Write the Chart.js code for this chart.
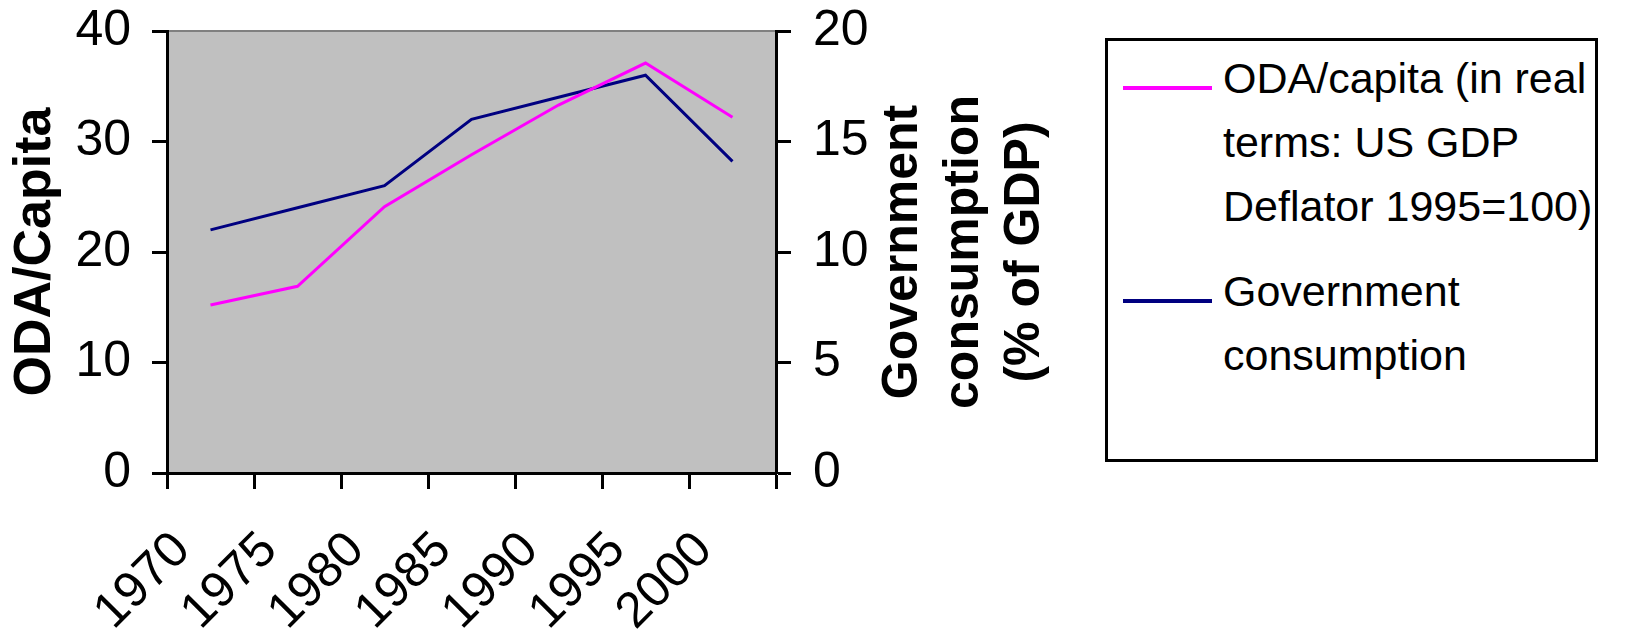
<!DOCTYPE html>
<html>
<head>
<meta charset="utf-8">
<title>ODA per capita and government consumption</title>
<script src="https://cdn.jsdelivr.net/npm/chart.js@4.4.0/dist/chart.umd.min.js"></script>
<style>
  html, body { margin: 0; padding: 0; background: #fff; }
  #wrap { position: relative; width: 1629px; height: 630px; }
  #legend {
    position: absolute; left: 1105px; top: 38px; width: 493px; height: 424px;
    box-sizing: border-box; border: 3px solid #000; background: #fff;
    font-family: 'Liberation Sans', Arial, sans-serif; font-size: 43px; line-height: 64px; color: #000;
  }
  .lg-item { position: absolute; left: 0; }
  .lg-swatch { position: absolute; left: 15px; top: 40px; width: 89px; height: 4px; }
  .lg-text { position: absolute; left: 115px; top: 0; white-space: nowrap; }
</style>
</head>
<body>
<div id="wrap">
  <canvas id="chart" width="1629" height="630"></canvas>
  <div id="legend"></div>
</div>
<script>
// DATA
const periods = ['1970', '1975', '1980', '1985', '1990', '1995', '2000'];
const odaPerCapita = [15.2, 16.9, 24.1, 28.8, 33.3, 37.1, 32.2];
const govConsumption = [11.0, 12.0, 13.0, 16.0, 17.0, 18.0, 14.1];

const odaTicks = [0, 10, 20, 30, 40];
const govTicks = [0, 5, 10, 15, 20];

const odaLegend = ['ODA/capita (in real', 'terms: US GDP', 'Deflator 1995=100)'];
const govLegend = ['Government', 'consumption'];
const govTitle = ['Government', 'consumption', '(% of GDP)'];

const ODA_COLOR = '#ff00ff';
const GOV_COLOR = '#000080';
const FONT = "'Liberation Sans', Arial, sans-serif";

Chart.defaults.font.family = FONT;
Chart.defaults.color = '#000';

// PLUGINS
const plotBackground = {
  id: 'plotBackground',
  beforeDraw(chart) {
    const { ctx, chartArea: a } = chart;
    ctx.save();
    ctx.fillStyle = '#c0c0c0';
    ctx.fillRect(a.left, a.top, a.right - a.left, a.bottom - a.top);
    ctx.strokeStyle = '#808080';
    ctx.lineWidth = 2;
    ctx.strokeRect(a.left, a.top, a.right - a.left, a.bottom - a.top);
    ctx.restore();
  }
};

// right axis title reads bottom-to-top, Chart.js would draw it top-to-bottom
const rightTitle = {
  id: 'rightTitle',
  afterDraw(chart) {
    const { ctx, chartArea: a } = chart;
    const cy = (a.top + a.bottom) / 2;
    ctx.save();
    ctx.font = 'bold 50px ' + FONT;
    ctx.fillStyle = '#000';
    ctx.textAlign = 'center';
    ctx.textBaseline = 'middle';
    govTitle.forEach((line, i) => {
      ctx.save();
      ctx.translate(a.right + 127 + i * 61, cy);
      ctx.rotate(-Math.PI / 2);
      ctx.fillText(line, 0, 0);
      ctx.restore();
    });
    ctx.restore();
  }
};

// CHART
const axisGrid = { drawOnChartArea: false, color: '#000', tickColor: '#000', tickLength: 15, tickWidth: 3 };
const axisBorder = { display: true, color: '#000', width: 3 };

// fixed axis sizes so the plot area sits where the original one does
function fixY(width) {
  return (scale) => { scale.width = width; scale.paddingTop = 0; scale.paddingBottom = 0; };
}

const chart = new Chart(document.getElementById('chart'), {
  type: 'line',
  data: {
    labels: periods,
    datasets: [
      { label: odaLegend.join(' '), data: odaPerCapita, yAxisID: 'y', borderColor: ODA_COLOR, backgroundColor: ODA_COLOR, borderWidth: 3, pointRadius: 0, tension: 0 },
      { label: govLegend.join(' '), data: govConsumption, yAxisID: 'y1', borderColor: GOV_COLOR, backgroundColor: GOV_COLOR, borderWidth: 3, pointRadius: 0, tension: 0 }
    ]
  },
  options: {
    responsive: false,
    animation: false,
    layout: { padding: { top: 31, right: 753, bottom: 0, left: 0 } },
    plugins: { legend: { display: false }, tooltip: { enabled: false } },
    scales: {
      x: {
        type: 'category',
        offset: true,
        grid: { ...axisGrid, offset: true, tickLength: 16 },
        border: axisBorder,
        ticks: { autoSkip: false, minRotation: 45, maxRotation: 45, labelOffset: -28, padding: 32, font: { size: 50 } },
        afterFit: (scale) => { scale.height = 157; scale.paddingLeft = 0; scale.paddingRight = 0; }
      },
      y: {
        position: 'left',
        min: odaTicks[0], max: odaTicks[odaTicks.length - 1],
        afterBuildTicks: (scale) => { scale.ticks = odaTicks.map(v => ({ value: v })); },
        grid: axisGrid,
        border: axisBorder,
        ticks: { padding: 21, font: { size: 50 } },
        title: { display: true, text: 'ODA/Capita', font: { size: 52, weight: 'bold' }, padding: { top: 4, bottom: 0 } },
        afterFit: fixY(167)
      },
      y1: {
        position: 'right',
        min: govTicks[0], max: govTicks[govTicks.length - 1],
        afterBuildTicks: (scale) => { scale.ticks = govTicks.map(v => ({ value: v })); },
        grid: axisGrid,
        border: axisBorder,
        ticks: { padding: 22, font: { size: 50 } },
        afterFit: fixY(100)
      }
    }
  },
  plugins: [plotBackground, rightTitle]
});

// LEGEND
const legendEl = document.getElementById('legend');
const legendLines = [odaLegend, govLegend];
const legendTops = [5, 218];
chart.data.datasets.forEach((ds, i) => {
  const item = document.createElement('div');
  item.className = 'lg-item';
  item.style.top = legendTops[i] + 'px';
  item.innerHTML = `<div class="lg-swatch" style="background:${ds.borderColor}"></div><div class="lg-text">${legendLines[i].join('<br>')}</div>`;
  legendEl.appendChild(item);
});
</script>
</body>
</html>
